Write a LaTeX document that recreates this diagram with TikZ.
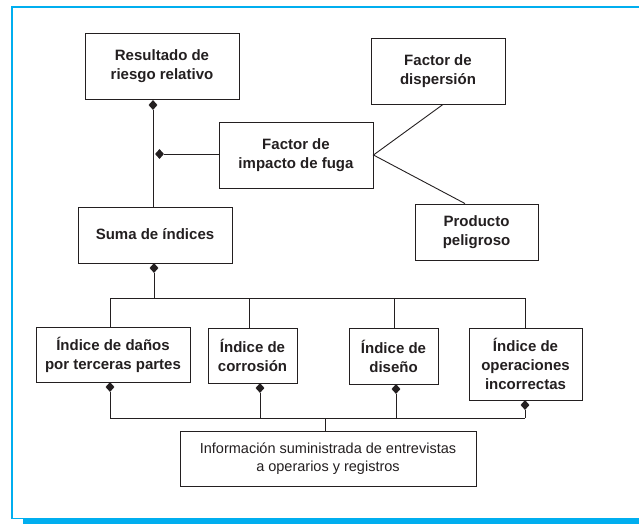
\documentclass[tikz,border=0pt]{standalone}
\usepackage{fontspec}
\setmainfont{Liberation Sans}
\usetikzlibrary{shapes.geometric}
\definecolor{framecol}{HTML}{00AEEF}
\definecolor{ink}{HTML}{231F20}
\begin{document}
\begin{tikzpicture}[x=1pt,y=-1pt,
  box/.style={draw=ink, line width=0.9pt, text=ink, align=center, inner sep=0pt,
    font=\fontsize{15}{19}\selectfont\bfseries},
  infobox/.style={draw=ink, line width=0.9pt, text=ink, align=center, inner sep=0pt,
    font=\fontsize{14.5}{17.5}\selectfont},
  sized/.style 2 args={minimum width=#1pt, minimum height=#2pt},
  dia/.style={diamond, fill=ink, inner sep=0pt, minimum width=9pt, minimum height=10pt},
  conn/.style={draw=ink, line width=0.9pt},
  thinframe/.style={draw=framecol, line width=1.4pt}]
\useasboundingbox (0,0) rectangle (639,524);
% frame
\draw[thinframe] (639,7) -- (12,7) -- (12,518.5) -- (23,518.5);
\fill[framecol] (23,518) rectangle (639,524);
% boxes
\node[box, sized={154}{66}] (res) at (162,66) {Resultado de\\riesgo relativo};
\node[box, sized={154}{66}] (imp) at (296,155) {Factor de\\impacto de fuga};
\node[box, sized={134}{66}] (disp) at (438,71) {Factor de\\dispersión};
\node[box, sized={123}{56}] (prod) at (476.5,232) {Producto\\peligroso};
\node[box, sized={154}{56}] (suma) at (155,235) {\raisebox{3pt}{Suma de índices}};
\node[box, sized={154}{55}] (dan) at (113,354.5) {Índice de daños\\por terceras partes};
\node[box, sized={89}{55}] (cor) at (252.5,355.5) {Índice de\\corrosión};
\node[box, sized={89}{56}] (dis) at (393.5,356) {Índice de\\diseño};
\node[box, sized={113}{72}] (ope) at (525.5,364) {Índice de\\operaciones\\incorrectas};
\node[infobox, sized={296}{55}] (info) at (328,458.5) {Información suministrada de entrevistas\\a operarios y registros};
% upper connectors
\node[dia] (dres) at (153,105) {};
\draw[conn] (dres.south) -- (suma.north -| dres.south);
\node[dia] (dimp) at (159.5,154) {};
\draw[conn] (dimp.east) -- (imp.west |- dimp.east);
\draw[conn] ([xshift=5pt]disp.south) -- (imp.east) -- ([xshift=-11.5pt]prod.north);
% suma to indices
\node[dia] (dsum) at (154,268) {};
\coordinate (busL) at (110,298);
\coordinate (busR) at (525,298);
\coordinate (busC) at (249,298);
\coordinate (busD) at (394,298);
\draw[conn] (dsum.south) -- (dsum.south |- busL);
\draw[conn] (busL) -- (busR);
\draw[conn] (busL) -- (dan.north -| busL);
\draw[conn] (busC) -- (cor.north -| busC);
\draw[conn] (busD) -- (dis.north -| busD);
\draw[conn] (busR) -- (ope.north -| busR);
% indices to info
\node[dia] (ddan) at (110,387) {};
\node[dia] (dcor) at (260,388) {};
\node[dia] (ddis) at (396,389) {};
\node[dia] (dope) at (525,405) {};
\coordinate (lowL) at (110,418);
\coordinate (lowR) at (525,418);
\coordinate (lowM) at (325,418);
\draw[conn] (ddan.south) -- (lowL);
\draw[conn] (dcor.south) -- (dcor.south |- lowL);
\draw[conn] (ddis.south) -- (ddis.south |- lowL);
\draw[conn] (dope.south) -- (lowR);
\draw[conn] (lowL) -- (lowR);
\draw[conn] (lowM) -- (info.north -| lowM);
\end{tikzpicture}
\end{document}
